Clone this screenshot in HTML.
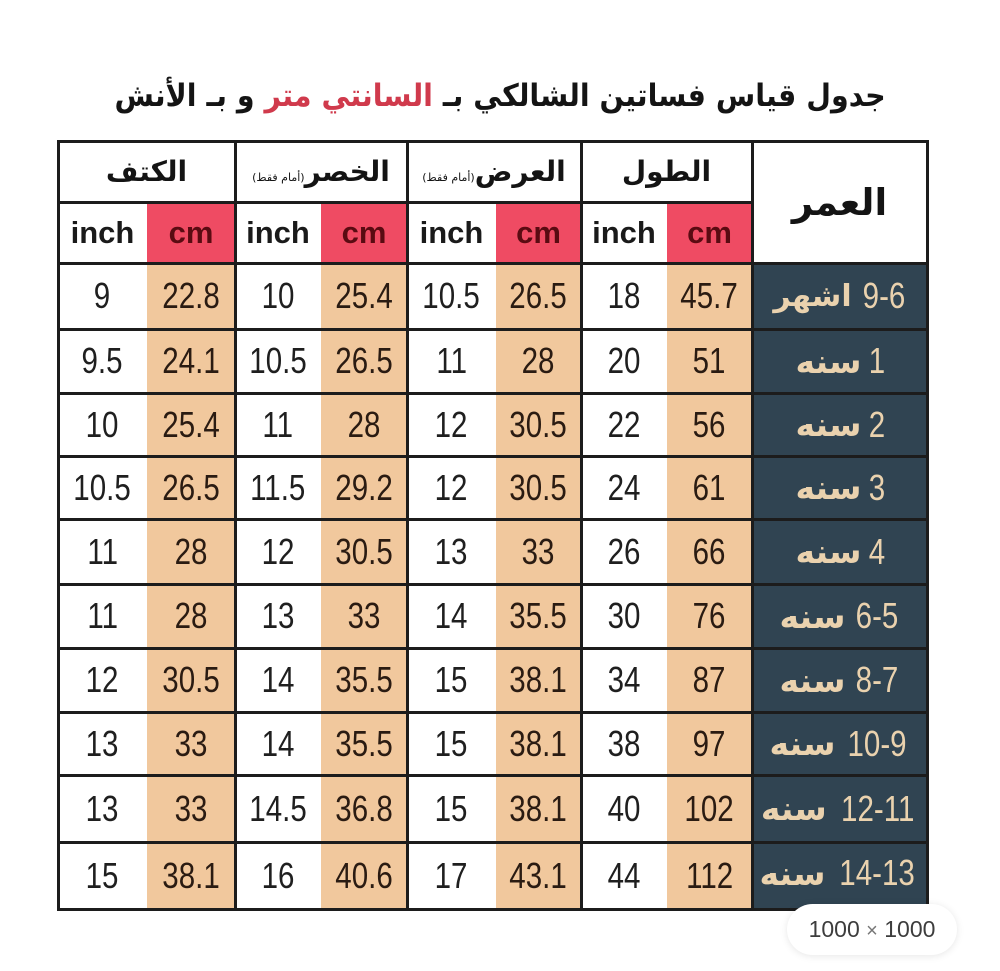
<!DOCTYPE html>
<html><head><meta charset="utf-8">
<style>
html,body{margin:0;padding:0;background:#fff;}
body{width:1000px;height:971px;position:relative;overflow:hidden;}
.bg{position:absolute;}
.h{position:absolute;background:#1c1c1c;height:3px;}
.v{position:absolute;background:#1c1c1c;width:3px;}
.c{position:absolute;display:flex;align-items:center;justify-content:center;}
.n{font-family:"Liberation Sans",sans-serif;font-size:36px;display:inline-block;transform:scaleX(.82);color:#1f1f1f;white-space:nowrap;line-height:1.15;}
.m{color:#2a1b12;}
.hd{font-family:"DejaVu Sans","Liberation Sans",sans-serif;font-weight:bold;color:#141414;white-space:nowrap;direction:rtl;}
.u{font-family:"Liberation Sans",sans-serif;font-weight:bold;font-size:31px;color:#1a1a1a;}
.ur{color:#5a0b12;}
.age{gap:10px;}
.ag-ar{font-family:"DejaVu Sans",sans-serif;font-size:33px;font-weight:bold;color:#ead2ae;direction:rtl;white-space:nowrap;}
.ag-n{font-family:"Liberation Sans",sans-serif;font-size:36px;color:#ead2ae;display:inline-block;transform:scaleX(.82);direction:ltr;unicode-bidi:isolate;white-space:nowrap;margin:0 -4px;}
</style></head>
<body>

<!-- Title -->
<div class="c" style="left:0;width:1000px;top:70px;height:52px;">
  <div class="hd" style="font-size:31px;transform:scaleX(.92);">جدول قياس فساتين الشالكي بـ <span style="color:#d03a4c;">السانتي متر</span> و بـ الأنش</div>
</div>

<!-- cm header red -->
<div class="bg" style="left:147px;top:202px;width:88px;height:61px;background:#ef4b63;"></div>
<div class="bg" style="left:321px;top:202px;width:86px;height:61px;background:#ef4b63;"></div>
<div class="bg" style="left:496px;top:202px;width:85px;height:61px;background:#ef4b63;"></div>
<div class="bg" style="left:667px;top:202px;width:85px;height:61px;background:#ef4b63;"></div>
<!-- cm data peach -->
<div class="bg" style="left:147px;top:263px;width:88px;height:646px;background:#f1c89d;"></div>
<div class="bg" style="left:321px;top:263px;width:86px;height:646px;background:#f1c89d;"></div>
<div class="bg" style="left:496px;top:263px;width:85px;height:646px;background:#f1c89d;"></div>
<div class="bg" style="left:667px;top:263px;width:85px;height:646px;background:#f1c89d;"></div>
<!-- age dark -->
<div class="bg" style="left:752px;top:263px;width:175px;height:646px;background:#304452;"></div>

<!-- horizontal lines -->
<div class="h" style="left:57px;top:140px;width:872px;"></div>
<div class="h" style="left:57px;top:201px;width:696px;"></div>
<div class="h" style="left:57px;top:262px;width:872px;"></div>
<div class="h" style="left:57px;top:328px;width:872px;"></div>
<div class="h" style="left:57px;top:392px;width:872px;"></div>
<div class="h" style="left:57px;top:455px;width:872px;"></div>
<div class="h" style="left:57px;top:518px;width:872px;"></div>
<div class="h" style="left:57px;top:583px;width:872px;"></div>
<div class="h" style="left:57px;top:647px;width:872px;"></div>
<div class="h" style="left:57px;top:711px;width:872px;"></div>
<div class="h" style="left:57px;top:774px;width:872px;"></div>
<div class="h" style="left:57px;top:841px;width:872px;"></div>
<div class="h" style="left:57px;top:908px;width:872px;"></div>
<!-- vertical lines -->
<div class="v" style="left:57px;top:140px;height:771px;"></div>
<div class="v" style="left:234px;top:140px;height:771px;"></div>
<div class="v" style="left:406px;top:140px;height:771px;"></div>
<div class="v" style="left:580px;top:140px;height:771px;"></div>
<div class="v" style="left:751px;top:140px;height:771px;"></div>
<div class="v" style="left:926px;top:140px;height:771px;"></div>

<!-- header row 1 -->
<div class="c" style="left:58px;top:141px;width:177px;height:61px;"><div class="hd" style="font-size:28px;">الكتف</div></div>
<div class="c" style="left:235px;top:141px;width:172px;height:61px;"><div class="hd" style="font-size:28px;">الخصر<span style="font-size:11px;font-weight:normal;">(أمام فقط)</span></div></div>
<div class="c" style="left:407px;top:141px;width:174px;height:61px;"><div class="hd" style="font-size:28px;">العرض<span style="font-size:11px;font-weight:normal;">(أمام فقط)</span></div></div>
<div class="c" style="left:581px;top:141px;width:171px;height:61px;"><div class="hd" style="font-size:28px;">الطول</div></div>
<div class="c" style="left:752px;top:141px;width:175px;height:122px;"><div class="hd" style="font-size:37px;">العمر</div></div>

<!-- header row 2 -->
<div class="c" style="left:58px;top:202px;width:89px;height:61px;"><span class="u">inch</span></div>
<div class="c" style="left:147px;top:202px;width:88px;height:61px;"><span class="u ur">cm</span></div>
<div class="c" style="left:235px;top:202px;width:86px;height:61px;"><span class="u">inch</span></div>
<div class="c" style="left:321px;top:202px;width:86px;height:61px;"><span class="u ur">cm</span></div>
<div class="c" style="left:407px;top:202px;width:89px;height:61px;"><span class="u">inch</span></div>
<div class="c" style="left:496px;top:202px;width:85px;height:61px;"><span class="u ur">cm</span></div>
<div class="c" style="left:581px;top:202px;width:86px;height:61px;"><span class="u">inch</span></div>
<div class="c" style="left:667px;top:202px;width:85px;height:61px;"><span class="u ur">cm</span></div>

<!-- Row 1 -->
<div class="c" style="left:58px;top:263px;width:89px;height:66px;"><span class="n">9</span></div>
<div class="c" style="left:147px;top:263px;width:88px;height:66px;"><span class="n m">22.8</span></div>
<div class="c" style="left:235px;top:263px;width:86px;height:66px;"><span class="n">10</span></div>
<div class="c" style="left:321px;top:263px;width:86px;height:66px;"><span class="n m">25.4</span></div>
<div class="c" style="left:407px;top:263px;width:89px;height:66px;"><span class="n">10.5</span></div>
<div class="c" style="left:496px;top:263px;width:85px;height:66px;"><span class="n m">26.5</span></div>
<div class="c" style="left:581px;top:263px;width:86px;height:66px;"><span class="n">18</span></div>
<div class="c" style="left:667px;top:263px;width:85px;height:66px;"><span class="n m">45.7</span></div>
<div class="c age" style="left:752px;top:263px;width:175px;height:66px;"><span class="ag-ar" style="font-size:30px;">اشهر</span><span class="ag-n">9-6</span></div>

<!-- Row 2 -->
<div class="c" style="left:58px;top:329px;width:89px;height:64px;"><span class="n">9.5</span></div>
<div class="c" style="left:147px;top:329px;width:88px;height:64px;"><span class="n m">24.1</span></div>
<div class="c" style="left:235px;top:329px;width:86px;height:64px;"><span class="n">10.5</span></div>
<div class="c" style="left:321px;top:329px;width:86px;height:64px;"><span class="n m">26.5</span></div>
<div class="c" style="left:407px;top:329px;width:89px;height:64px;"><span class="n">11</span></div>
<div class="c" style="left:496px;top:329px;width:85px;height:64px;"><span class="n m">28</span></div>
<div class="c" style="left:581px;top:329px;width:86px;height:64px;"><span class="n">20</span></div>
<div class="c" style="left:667px;top:329px;width:85px;height:64px;"><span class="n m">51</span></div>
<div class="c age" style="left:752px;top:329px;width:175px;height:64px;"><span class="ag-ar">سنه</span><span class="ag-n">1</span></div>

<!-- Row 3 -->
<div class="c" style="left:58px;top:393px;width:89px;height:63px;"><span class="n">10</span></div>
<div class="c" style="left:147px;top:393px;width:88px;height:63px;"><span class="n m">25.4</span></div>
<div class="c" style="left:235px;top:393px;width:86px;height:63px;"><span class="n">11</span></div>
<div class="c" style="left:321px;top:393px;width:86px;height:63px;"><span class="n m">28</span></div>
<div class="c" style="left:407px;top:393px;width:89px;height:63px;"><span class="n">12</span></div>
<div class="c" style="left:496px;top:393px;width:85px;height:63px;"><span class="n m">30.5</span></div>
<div class="c" style="left:581px;top:393px;width:86px;height:63px;"><span class="n">22</span></div>
<div class="c" style="left:667px;top:393px;width:85px;height:63px;"><span class="n m">56</span></div>
<div class="c age" style="left:752px;top:393px;width:175px;height:63px;"><span class="ag-ar">سنه</span><span class="ag-n">2</span></div>

<!-- Row 4 -->
<div class="c" style="left:58px;top:456px;width:89px;height:63px;"><span class="n">10.5</span></div>
<div class="c" style="left:147px;top:456px;width:88px;height:63px;"><span class="n m">26.5</span></div>
<div class="c" style="left:235px;top:456px;width:86px;height:63px;"><span class="n">11.5</span></div>
<div class="c" style="left:321px;top:456px;width:86px;height:63px;"><span class="n m">29.2</span></div>
<div class="c" style="left:407px;top:456px;width:89px;height:63px;"><span class="n">12</span></div>
<div class="c" style="left:496px;top:456px;width:85px;height:63px;"><span class="n m">30.5</span></div>
<div class="c" style="left:581px;top:456px;width:86px;height:63px;"><span class="n">24</span></div>
<div class="c" style="left:667px;top:456px;width:85px;height:63px;"><span class="n m">61</span></div>
<div class="c age" style="left:752px;top:456px;width:175px;height:63px;"><span class="ag-ar">سنه</span><span class="ag-n">3</span></div>

<!-- Row 5 -->
<div class="c" style="left:58px;top:519px;width:89px;height:65px;"><span class="n">11</span></div>
<div class="c" style="left:147px;top:519px;width:88px;height:65px;"><span class="n m">28</span></div>
<div class="c" style="left:235px;top:519px;width:86px;height:65px;"><span class="n">12</span></div>
<div class="c" style="left:321px;top:519px;width:86px;height:65px;"><span class="n m">30.5</span></div>
<div class="c" style="left:407px;top:519px;width:89px;height:65px;"><span class="n">13</span></div>
<div class="c" style="left:496px;top:519px;width:85px;height:65px;"><span class="n m">33</span></div>
<div class="c" style="left:581px;top:519px;width:86px;height:65px;"><span class="n">26</span></div>
<div class="c" style="left:667px;top:519px;width:85px;height:65px;"><span class="n m">66</span></div>
<div class="c age" style="left:752px;top:519px;width:175px;height:65px;"><span class="ag-ar">سنه</span><span class="ag-n">4</span></div>

<!-- Row 6 -->
<div class="c" style="left:58px;top:584px;width:89px;height:64px;"><span class="n">11</span></div>
<div class="c" style="left:147px;top:584px;width:88px;height:64px;"><span class="n m">28</span></div>
<div class="c" style="left:235px;top:584px;width:86px;height:64px;"><span class="n">13</span></div>
<div class="c" style="left:321px;top:584px;width:86px;height:64px;"><span class="n m">33</span></div>
<div class="c" style="left:407px;top:584px;width:89px;height:64px;"><span class="n">14</span></div>
<div class="c" style="left:496px;top:584px;width:85px;height:64px;"><span class="n m">35.5</span></div>
<div class="c" style="left:581px;top:584px;width:86px;height:64px;"><span class="n">30</span></div>
<div class="c" style="left:667px;top:584px;width:85px;height:64px;"><span class="n m">76</span></div>
<div class="c age" style="left:752px;top:584px;width:175px;height:64px;"><span class="ag-ar">سنه</span><span class="ag-n">6-5</span></div>

<!-- Row 7 -->
<div class="c" style="left:58px;top:648px;width:89px;height:64px;"><span class="n">12</span></div>
<div class="c" style="left:147px;top:648px;width:88px;height:64px;"><span class="n m">30.5</span></div>
<div class="c" style="left:235px;top:648px;width:86px;height:64px;"><span class="n">14</span></div>
<div class="c" style="left:321px;top:648px;width:86px;height:64px;"><span class="n m">35.5</span></div>
<div class="c" style="left:407px;top:648px;width:89px;height:64px;"><span class="n">15</span></div>
<div class="c" style="left:496px;top:648px;width:85px;height:64px;"><span class="n m">38.1</span></div>
<div class="c" style="left:581px;top:648px;width:86px;height:64px;"><span class="n">34</span></div>
<div class="c" style="left:667px;top:648px;width:85px;height:64px;"><span class="n m">87</span></div>
<div class="c age" style="left:752px;top:648px;width:175px;height:64px;"><span class="ag-ar">سنه</span><span class="ag-n">8-7</span></div>

<!-- Row 8 -->
<div class="c" style="left:58px;top:712px;width:89px;height:63px;"><span class="n">13</span></div>
<div class="c" style="left:147px;top:712px;width:88px;height:63px;"><span class="n m">33</span></div>
<div class="c" style="left:235px;top:712px;width:86px;height:63px;"><span class="n">14</span></div>
<div class="c" style="left:321px;top:712px;width:86px;height:63px;"><span class="n m">35.5</span></div>
<div class="c" style="left:407px;top:712px;width:89px;height:63px;"><span class="n">15</span></div>
<div class="c" style="left:496px;top:712px;width:85px;height:63px;"><span class="n m">38.1</span></div>
<div class="c" style="left:581px;top:712px;width:86px;height:63px;"><span class="n">38</span></div>
<div class="c" style="left:667px;top:712px;width:85px;height:63px;"><span class="n m">97</span></div>
<div class="c age" style="left:752px;top:712px;width:175px;height:63px;"><span class="ag-ar">سنه</span><span class="ag-n">10-9</span></div>

<!-- Row 9 -->
<div class="c" style="left:58px;top:775px;width:89px;height:67px;"><span class="n">13</span></div>
<div class="c" style="left:147px;top:775px;width:88px;height:67px;"><span class="n m">33</span></div>
<div class="c" style="left:235px;top:775px;width:86px;height:67px;"><span class="n">14.5</span></div>
<div class="c" style="left:321px;top:775px;width:86px;height:67px;"><span class="n m">36.8</span></div>
<div class="c" style="left:407px;top:775px;width:89px;height:67px;"><span class="n">15</span></div>
<div class="c" style="left:496px;top:775px;width:85px;height:67px;"><span class="n m">38.1</span></div>
<div class="c" style="left:581px;top:775px;width:86px;height:67px;"><span class="n">40</span></div>
<div class="c" style="left:667px;top:775px;width:85px;height:67px;"><span class="n m">102</span></div>
<div class="c age" style="left:752px;top:775px;width:175px;height:67px;"><span class="ag-ar">سنه</span><span class="ag-n">12-11</span></div>

<!-- Row 10 -->
<div class="c" style="left:58px;top:842px;width:89px;height:67px;"><span class="n">15</span></div>
<div class="c" style="left:147px;top:842px;width:88px;height:67px;"><span class="n m">38.1</span></div>
<div class="c" style="left:235px;top:842px;width:86px;height:67px;"><span class="n">16</span></div>
<div class="c" style="left:321px;top:842px;width:86px;height:67px;"><span class="n m">40.6</span></div>
<div class="c" style="left:407px;top:842px;width:89px;height:67px;"><span class="n">17</span></div>
<div class="c" style="left:496px;top:842px;width:85px;height:67px;"><span class="n m">43.1</span></div>
<div class="c" style="left:581px;top:842px;width:86px;height:67px;"><span class="n">44</span></div>
<div class="c" style="left:667px;top:842px;width:85px;height:67px;"><span class="n m">112</span></div>
<div class="c age" style="left:752px;top:842px;width:175px;height:62px;"><span class="ag-ar">سنه</span><span class="ag-n">14-13</span></div>

<!-- badge -->
<div class="c" style="left:787px;top:904px;width:170px;height:51px;background:#fff;border-radius:26px;box-shadow:0 1px 8px rgba(0,0,0,0.10);">
  <span style="font-family:'Liberation Sans',sans-serif;font-size:23px;color:#3d3d3d;white-space:nowrap;">1000 <span style="color:#777;font-size:20px;">×</span> 1000</span>
</div>

</body></html>
